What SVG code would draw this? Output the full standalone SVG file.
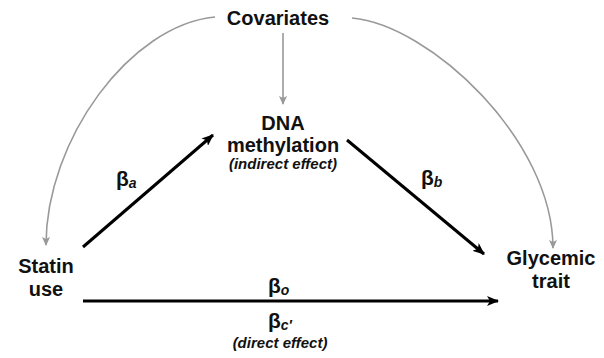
<svg xmlns="http://www.w3.org/2000/svg" width="604" height="358" viewBox="0 0 604 358">
<style>
.lbl{font-family:"Liberation Sans",Arial,sans-serif;font-weight:bold;font-size:20px;fill:#111;text-anchor:middle}
.note{font-family:"Liberation Sans",Arial,sans-serif;font-weight:bold;font-style:italic;font-size:15px;fill:#111;text-anchor:middle}
.beta{font-family:"Liberation Sans",Arial,sans-serif;font-weight:bold;font-size:21px;fill:#111}
.sub{font-style:italic;font-weight:bold;font-size:14px}
.blk{stroke:#000;stroke-width:3;fill:none}
.gry{stroke:#999;stroke-width:1.6;fill:none}
</style>
<defs>
<marker id="ah" markerUnits="userSpaceOnUse" markerWidth="12" markerHeight="10" refX="11" refY="5" orient="auto">
<path d="M0,0 L12,5 L0,10 L3,5 Z" fill="#000"/>
</marker>
<marker id="ag" markerUnits="userSpaceOnUse" markerWidth="9" markerHeight="8" refX="8" refY="4" orient="auto">
<path d="M0,0 L9,4 L0,8 L2,4 Z" fill="#999"/>
</marker>
</defs>
<g id="connectors">
<path class="gry" d="M215,17 C130,25 46,140 46,245" marker-end="url(#ag)"/>
<path class="gry" d="M352,18 C430,25 553,140 553,248" marker-end="url(#ag)"/>
<path class="gry" d="M283,33 L283,104" marker-end="url(#ag)"/>
<path class="blk" d="M83,247 L213,135" marker-end="url(#ah)"/>
<path class="blk" d="M347,140 L484,254" marker-end="url(#ah)"/>
<path class="blk" d="M83,301 L498,301" marker-end="url(#ah)"/>
</g>
<g id="covariates"><text class="lbl" x="278" y="25">Covariates</text></g>
<g id="dna">
<text class="lbl" x="283" y="130">DNA</text>
<text class="lbl" x="283" y="152">methylation</text>
<text class="note" x="283" y="169">(indirect effect)</text>
</g>
<g id="statin">
<text class="lbl" x="46" y="273">Statin</text>
<text class="lbl" x="46" y="296">use</text>
</g>
<g id="glycemic">
<text class="lbl" x="551" y="265">Glycemic</text>
<text class="lbl" x="551" y="288">trait</text>
</g>
<g id="labels">
<text class="beta" x="116" y="186">β<tspan class="sub" dy="2">a</tspan></text>
<text class="beta" x="421" y="185">β<tspan class="sub" dy="2">b</tspan></text>
<text class="beta" x="268" y="293">β<tspan class="sub" dy="2">o</tspan></text>
<text class="beta" x="268" y="328">β<tspan class="sub" dy="2">c′</tspan></text>
<text class="note" x="280" y="348">(direct effect)</text>
</g>
</svg>
